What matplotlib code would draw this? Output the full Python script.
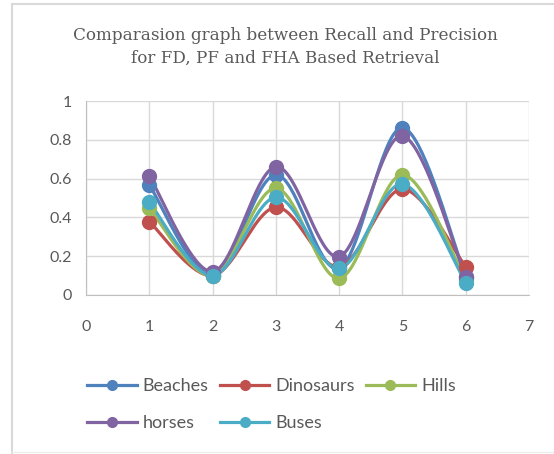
import numpy as np
import matplotlib
matplotlib.use("Agg")
import matplotlib.pyplot as plt
from matplotlib.lines import Line2D

x = [1, 2, 3, 4, 5, 6]
beaches = [0.567, 0.103, 0.619, 0.137, 0.862, 0.095]
dinosaurs = [0.378, 0.100, 0.452, 0.146, 0.546, 0.146]
hills = [0.447, 0.100, 0.550, 0.086, 0.619, 0.077]
horses = [0.613, 0.120, 0.661, 0.198, 0.820, 0.095]
buses = [0.478, 0.100, 0.503, 0.137, 0.572, 0.064]

names = ["Beaches", "Dinosaurs", "Hills", "horses", "Buses"]
series = [beaches, dinosaurs, hills, horses, buses]
colors = ["#4F81BD", "#C0504D", "#9BBB59", "#8064A2", "#4BACC6"]


def smooth(xs, ys, n=40):
    # excel-like smoothing (catmull-rom as cubic bezier)
    p = np.column_stack([xs, ys]).astype(float)
    pts = np.vstack([p[0], p, p[-1]])
    out = []
    t = np.linspace(0, 1, n)[:, None]
    for i in range(1, len(pts) - 2):
        p0, p1, p2, p3 = pts[i - 1], pts[i], pts[i + 1], pts[i + 2]
        c1 = p1 + (p2 - p0) / 6
        c2 = p2 - (p3 - p1) / 6
        seg = ((1 - t) ** 3) * p1 + 3 * ((1 - t) ** 2) * t * c1 + 3 * (1 - t) * t ** 2 * c2 + t ** 3 * p2
        out.append(seg)
    out = np.vstack(out)
    return out[:, 0], out[:, 1]


fig = plt.figure(figsize=(5.54, 4.54), dpi=100)
W, H = 554, 454
ax = fig.add_axes([86 / W, (H - 295) / H, 443 / W, 194 / H])

for ys, c in zip(series, colors):
    sx, sy = smooth(x, ys)
    ax.plot(sx, sy, color=c, lw=2.3, solid_capstyle="round", zorder=3)
    ax.plot(x, ys, "o", color=c, ms=10, zorder=4)

ax.set_xlim(0, 7)
ax.set_ylim(0, 1)
ax.set_xticks(range(0, 8))
ax.set_yticks([0, 0.2, 0.4, 0.6, 0.8, 1])
ax.set_yticklabels(["0", "0.2", "0.4", "0.6", "0.8", "1"])
ax.grid(True, color="#d9d9d9", lw=1)
ax.set_axisbelow(True)
for s in ["top", "right"]:
    ax.spines[s].set_visible(False)
ax.spines["left"].set_color("#bfbfbf")
ax.spines["bottom"].set_color("#bfbfbf")
ax.tick_params(length=0, labelsize=11.5, labelcolor="#595959")
ax.tick_params(axis="x", pad=18)
ax.tick_params(axis="y", pad=10)
for lab in ax.get_xticklabels() + ax.get_yticklabels():
    lab.set_fontfamily("Lato")

fig.text(0.5 + 8 / W, 1 - 35 / H, "Comparasion graph between Recall and Precision",
         ha="center", va="center", fontsize=12.1, color="#595959", family="DejaVu Serif")
fig.text(0.5 + 8 / W, 1 - 58 / H, "for FD, PF and FHA Based Retrieval",
         ha="center", va="center", fontsize=12.1, color="#595959", family="DejaVu Serif")

# legend fills by column, so order entries to read row by row
order = [0, 3, 1, 4, 2]
handles = [Line2D([], [], color=colors[i], lw=2.3, marker="o", ms=7) for i in order]
labels = [names[i] for i in order]
leg = fig.legend(handles, labels, ncol=3, loc="upper left",
                 bbox_to_anchor=(71 / W, 1 - 362 / H), frameon=False,
                 prop={"family": "Lato", "size": 13}, labelcolor="#595959",
                 handlelength=2.75, handletextpad=0.33, columnspacing=0.6,
                 labelspacing=1.15)

# chart border
fig.add_artist(Line2D([12 / W, 12 / W], [0, 1 - 4 / H], color="#d9d9d9", lw=1.5, transform=fig.transFigure))
fig.add_artist(Line2D([12 / W, 1], [1 - 4 / H, 1 - 4 / H], color="#d9d9d9", lw=1.5, transform=fig.transFigure))
fig.add_artist(Line2D([12 / W, 1], [2 / H, 2 / H], color="#eeeeee", lw=1.0, transform=fig.transFigure))

fig.savefig("out.png", dpi=100)
